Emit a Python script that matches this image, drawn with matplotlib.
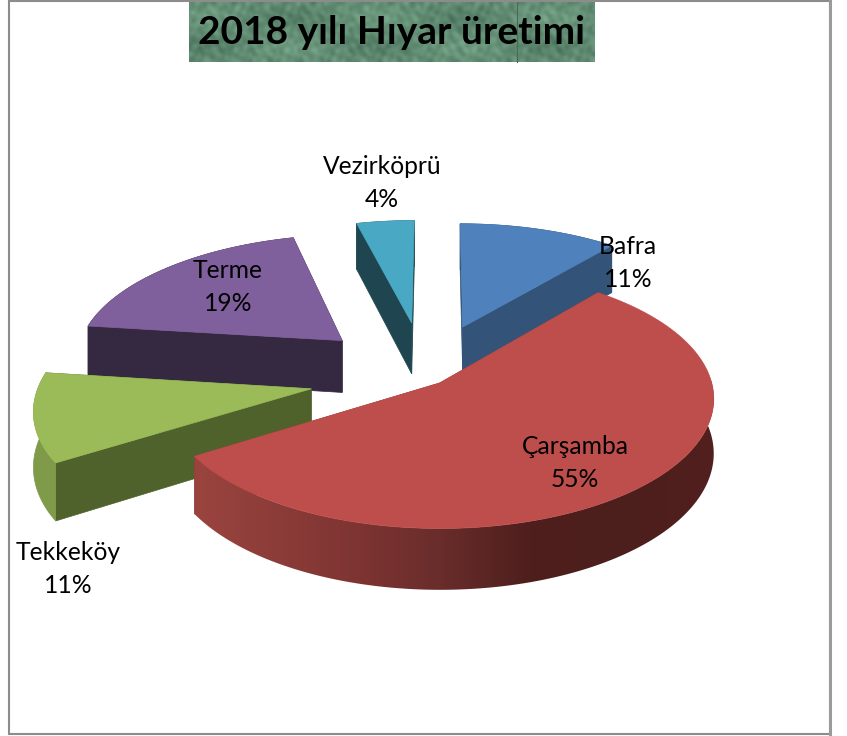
import numpy as np
import matplotlib
matplotlib.use('Agg')
import matplotlib.pyplot as plt
from matplotlib.patches import Polygon, Rectangle

categories = ['Bafra', 'Çarşamba', 'Tekkeköy', 'Terme', 'Vezirköprü']
values = [11, 55, 11, 19, 4]
title = '2018 yılı Hıyar üretimi'

top_colors = ['#4f81bd', '#bd4e4b', '#9bbb59', '#7f609d', '#49a9c4']
side_colors = ['#335478', '#8c3836', '#4f622c', '#352942', '#1f4650']
arc_colors = ['#335478', None, '#7f9a48', '#352942', '#1f4650']

# explode of each slice, in pie radius units
explode_x = [0.1, 0.01, -0.46, -0.363, -0.0985]
explode_y = [-0.462, 0.0, 0.045, -0.345, -0.497]
label_pos = [(628, 263), (575, 463), (68, 569), (228, 287), (382, 183)]

# projection of the pie plane to the picture
cx, cy = 437, 383
rx, ry = 272, 128
persp = 0.12
depth = 54


def project(x, y):
    s = 1 / (1 - persp * y)
    return cx + rx * x * s, cy + ry * y * s, depth * s


def wedge(start, end, dx, dy):
    th = np.radians(np.linspace(start, end, 160))
    return project(dx + np.sin(th), dy - np.cos(th))


def red_shade(x):
    stops_x = [195, 360, 440, 530, 620, 715]
    stops_c = np.array([[155, 68, 63], [125, 52, 50], [105, 45, 43], [78, 31, 29], [76, 30, 28], [82, 32, 30]])
    return np.stack([np.interp(x, stops_x, stops_c[:, i]) for i in range(3)], axis=-1).astype(np.uint8)


fig = plt.figure(figsize=(8.47, 7.36), dpi=100)
ax = fig.add_axes([0, 0, 1, 1])
plt.rcParams['font.family'] = ['Lato', 'DejaVu Sans']

# title background texture, blotchy green
yy, xx = np.mgrid[0:20, 0:135]
tex = (np.sin(xx * 0.11 + 1) * np.sin(yy * 0.33) + 0.9 * np.sin(xx * 0.73 + 3 * np.sin(yy * 0.9))
       + 0.8 * np.sin(xx * 2.9 + yy * 5.3 + 4 * np.sin(xx * 0.39)) + 0.7 * np.sin(yy * 3.7 - xx * 1.9 + 5 * np.sin(yy * 0.63)))
base = np.array([98, 141, 116])
img = np.clip(base[None, None, :] + tex[:, :, None] * np.array([11, 13, 11]), 0, 255).astype(np.uint8)
ax.imshow(img, extent=(189, 595, 62, 2), aspect='auto', zorder=1, interpolation='bicubic')
ax.plot([517, 517], [2, 62], color='#4a6a58', lw=0.8, zorder=1.5)
ax.text(391, 33, title, fontsize=28, fontweight='bold', ha='center', va='center', color='black', zorder=2)

# slice angles from the values, clockwise from the top
angles = np.cumsum([0] + values) / sum(values) * 360
order = [4, 0, 3, 2, 1]  # back to front

z = 3
for i in order:
    start, end = angles[i], angles[i + 1]
    ax0, ay0, ad0 = project(explode_x[i], explode_y[i])
    x, y, d = wedge(start, end, explode_x[i], explode_y[i])

    for k in (0, -1):
        quad = [(ax0, ay0), (x[k], y[k]), (x[k], y[k] + d[k]), (ax0, ay0 + ad0)]
        ax.add_patch(Polygon(quad, fc=side_colors[i], ec=side_colors[i], lw=0.5, zorder=z))
    z += 1

    wall = np.column_stack([np.r_[x, x[::-1]], np.r_[y, (y + d)[::-1]]])
    if arc_colors[i] is None:
        xs = np.arange(180, 730)
        grad = ax.imshow(red_shade(xs)[None, :, :], extent=(180, 730, 620, 380), aspect='auto', zorder=z,
                         interpolation='bilinear')
        clip = Polygon(wall, transform=ax.transData)
        grad.set_clip_path(clip)
    else:
        ax.add_patch(Polygon(wall, fc=arc_colors[i], ec=arc_colors[i], lw=0.5, zorder=z))
    z += 1

    ax.add_patch(Polygon(np.column_stack([np.r_[ax0, x], np.r_[ay0, y]]), fc=top_colors[i], ec=top_colors[i],
                         lw=0.5, zorder=z))
    z += 1

for name, val, pos in zip(categories, values, label_pos):
    ax.text(pos[0], pos[1], '%s\n%d%%' % (name, val), fontsize=17.7, ha='center', va='center',
            color='black', linespacing=1.5, zorder=50)

ax.add_patch(Rectangle((9, 0.5), 821, 733.5, fc='none', ec='#8c8c8c', lw=1.5, zorder=60))
ax.plot([830, 830], [0, 734], color='#9a9a9a', lw=2.2, zorder=60)

ax.set_xlim(0, 847)
ax.set_ylim(736, 0)
ax.axis('off')

fig.savefig('out.png', dpi=100)
